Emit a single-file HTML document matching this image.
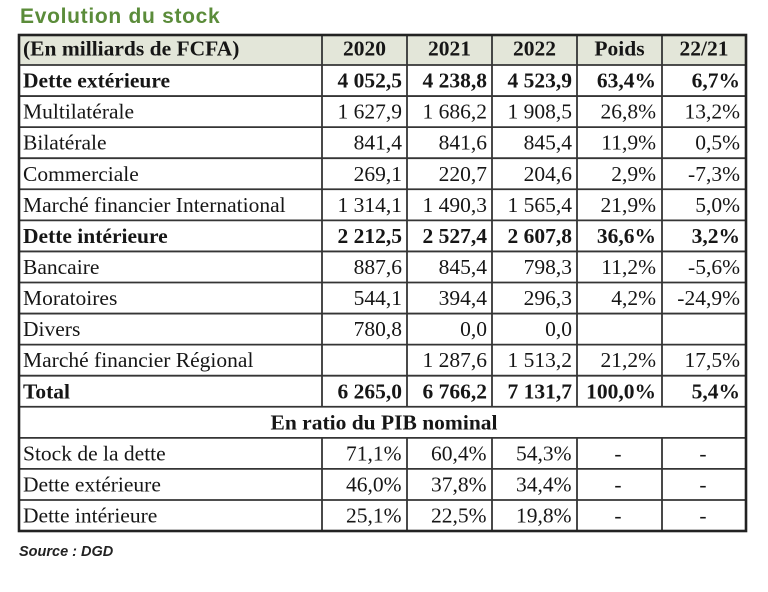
<!DOCTYPE html>
<html><head><meta charset="utf-8"><style>
html,body{margin:0;padding:0;background:#fff;}
body{width:768px;height:592px;overflow:hidden;}
svg{display:block;}
.t{font-family:"Liberation Serif",serif;font-size:21.5px;fill:#161616;}
.b{font-weight:bold;}
.r{text-anchor:end;}
.c{text-anchor:middle;}
</style></head><body>
<svg width="768" height="592" viewBox="0 0 768 592" xmlns="http://www.w3.org/2000/svg">
<text x="20" y="23" style="font-family:'Liberation Sans',sans-serif;font-weight:bold;font-size:21px;letter-spacing:0.7px;fill:#5b8c3a;">Evolution du stock</text>
<rect x="19" y="35" width="727" height="30" fill="#e3e6d9"/>
<g stroke="#353535" stroke-width="1.8" fill="none">
<line x1="19" y1="65" x2="746" y2="65"/>
<line x1="19" y1="96.07" x2="746" y2="96.07"/>
<line x1="19" y1="127.14" x2="746" y2="127.14"/>
<line x1="19" y1="158.21" x2="746" y2="158.21"/>
<line x1="19" y1="189.28" x2="746" y2="189.28"/>
<line x1="19" y1="220.35" x2="746" y2="220.35"/>
<line x1="19" y1="251.42" x2="746" y2="251.42"/>
<line x1="19" y1="282.49" x2="746" y2="282.49"/>
<line x1="19" y1="313.56" x2="746" y2="313.56"/>
<line x1="19" y1="344.63" x2="746" y2="344.63"/>
<line x1="19" y1="375.7" x2="746" y2="375.7"/>
<line x1="19" y1="406.77" x2="746" y2="406.77"/>
<line x1="19" y1="437.84" x2="746" y2="437.84"/>
<line x1="19" y1="468.91" x2="746" y2="468.91"/>
<line x1="19" y1="499.98" x2="746" y2="499.98"/>
<line x1="322" y1="35" x2="322" y2="406.77"/>
<line x1="407" y1="35" x2="407" y2="406.77"/>
<line x1="492" y1="35" x2="492" y2="406.77"/>
<line x1="577" y1="35" x2="577" y2="406.77"/>
<line x1="662" y1="35" x2="662" y2="406.77"/>
<line x1="322" y1="437.84" x2="322" y2="531"/>
<line x1="407" y1="437.84" x2="407" y2="531"/>
<line x1="492" y1="437.84" x2="492" y2="531"/>
<line x1="577" y1="437.84" x2="577" y2="531"/>
<line x1="662" y1="437.84" x2="662" y2="531"/>
</g>
<rect x="19" y="35" width="727" height="496" fill="none" stroke="#222" stroke-width="2.6"/>

<g class="t">
<text class="b" x="23" y="55.5">(En milliards de FCFA)</text>
<text class="b c" x="364.5" y="55.5">2020</text>
<text class="b c" x="449.5" y="55.5">2021</text>
<text class="b c" x="534.5" y="55.5">2022</text>
<text class="b c" x="619.5" y="55.5">Poids</text>
<text class="b c" x="704" y="55.5">22/21</text>

<text class="b" x="23" y="87.6">Dette extérieure</text>
<text class="b r" x="402" y="87.6">4 052,5</text>
<text class="b r" x="487" y="87.6">4 238,8</text>
<text class="b r" x="572" y="87.6">4 523,9</text>
<text class="b r" x="656" y="87.6">63,4%</text>
<text class="b r" x="740" y="87.6">6,7%</text>

<text x="23" y="118.6">Multilatérale</text>
<text class="r" x="402" y="118.6">1 627,9</text>
<text class="r" x="487" y="118.6">1 686,2</text>
<text class="r" x="572" y="118.6">1 908,5</text>
<text class="r" x="656" y="118.6">26,8%</text>
<text class="r" x="740" y="118.6">13,2%</text>

<text x="23" y="149.7">Bilatérale</text>
<text class="r" x="402" y="149.7">841,4</text>
<text class="r" x="487" y="149.7">841,6</text>
<text class="r" x="572" y="149.7">845,4</text>
<text class="r" x="656" y="149.7">11,9%</text>
<text class="r" x="740" y="149.7">0,5%</text>

<text x="23" y="180.8">Commerciale</text>
<text class="r" x="402" y="180.8">269,1</text>
<text class="r" x="487" y="180.8">220,7</text>
<text class="r" x="572" y="180.8">204,6</text>
<text class="r" x="656" y="180.8">2,9%</text>
<text class="r" x="740" y="180.8">-7,3%</text>

<text x="23" y="211.8">Marché financier International</text>
<text class="r" x="402" y="211.8">1 314,1</text>
<text class="r" x="487" y="211.8">1 490,3</text>
<text class="r" x="572" y="211.8">1 565,4</text>
<text class="r" x="656" y="211.8">21,9%</text>
<text class="r" x="740" y="211.8">5,0%</text>

<text class="b" x="23" y="242.9">Dette intérieure</text>
<text class="b r" x="402" y="242.9">2 212,5</text>
<text class="b r" x="487" y="242.9">2 527,4</text>
<text class="b r" x="572" y="242.9">2 607,8</text>
<text class="b r" x="656" y="242.9">36,6%</text>
<text class="b r" x="740" y="242.9">3,2%</text>

<text x="23" y="274">Bancaire</text>
<text class="r" x="402" y="274">887,6</text>
<text class="r" x="487" y="274">845,4</text>
<text class="r" x="572" y="274">798,3</text>
<text class="r" x="656" y="274">11,2%</text>
<text class="r" x="740" y="274">-5,6%</text>

<text x="23" y="305">Moratoires</text>
<text class="r" x="402" y="305">544,1</text>
<text class="r" x="487" y="305">394,4</text>
<text class="r" x="572" y="305">296,3</text>
<text class="r" x="656" y="305">4,2%</text>
<text class="r" x="740" y="305">-24,9%</text>

<text x="23" y="336.1">Divers</text>
<text class="r" x="402" y="336.1">780,8</text>
<text class="r" x="487" y="336.1">0,0</text>
<text class="r" x="572" y="336.1">0,0</text>

<text x="23" y="367.2">Marché financier Régional</text>
<text class="r" x="487" y="367.2">1 287,6</text>
<text class="r" x="572" y="367.2">1 513,2</text>
<text class="r" x="656" y="367.2">21,2%</text>
<text class="r" x="740" y="367.2">17,5%</text>

<text class="b" x="23" y="398.3">Total</text>
<text class="b r" x="402" y="398.3">6 265,0</text>
<text class="b r" x="487" y="398.3">6 766,2</text>
<text class="b r" x="572" y="398.3">7 131,7</text>
<text class="b r" x="656" y="398.3">100,0%</text>
<text class="b r" x="740" y="398.3">5,4%</text>

<text class="b c" x="384" y="429.3">En ratio du PIB nominal</text>

<text x="23" y="460.4">Stock de la dette</text>
<text class="r" x="401.5" y="460.4">71,1%</text>
<text class="r" x="486.5" y="460.4">60,4%</text>
<text class="r" x="571.5" y="460.4">54,3%</text>
<text class="c" x="618" y="460.4">-</text>
<text class="c" x="703" y="460.4">-</text>

<text x="23" y="491.5">Dette extérieure</text>
<text class="r" x="401.5" y="491.5">46,0%</text>
<text class="r" x="486.5" y="491.5">37,8%</text>
<text class="r" x="571.5" y="491.5">34,4%</text>
<text class="c" x="618" y="491.5">-</text>
<text class="c" x="703" y="491.5">-</text>

<text x="23" y="522.6">Dette intérieure</text>
<text class="r" x="401.5" y="522.6">25,1%</text>
<text class="r" x="486.5" y="522.6">22,5%</text>
<text class="r" x="571.5" y="522.6">19,8%</text>
<text class="c" x="618" y="522.6">-</text>
<text class="c" x="703" y="522.6">-</text>
</g>

<text x="19" y="556" style="font-family:'Liberation Sans',sans-serif;font-style:italic;font-weight:bold;font-size:14.5px;fill:#222;">Source : DGD</text>
</svg>
</body></html>
